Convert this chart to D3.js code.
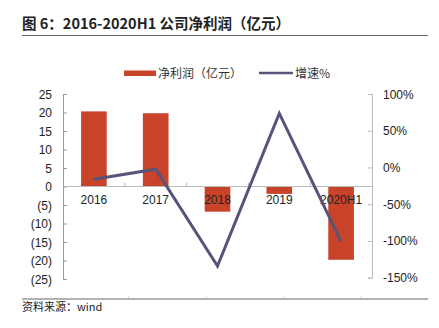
<!DOCTYPE html>
<html><head><meta charset="utf-8">
<script src="https://cdn.jsdelivr.net/npm/d3@7/dist/d3.min.js"></script>
<style>
body{margin:0;background:#fff;}
svg{display:block;}
</style></head>
<body>
<svg id="chart" width="439" height="328"></svg>
<script>
const categories = ["2016","2017","2018","2019","2020H1"];
const profit = [20.3, 19.8, -6.8, -2.0, -19.8];
const growth = [-16, -2.3, -134, 73.6, -101];
const leftTicks = [25,20,15,10,5,0,-5,-10,-15,-20,-25];
const rightTicks = [100,50,0,-50,-100,-150];
const title = "图 6：2016-2020H1 公司净利润（亿元）";
const legendBar = "净利润（亿元）";
const legendLine = "增速%";
const source = "资料来源：wind";

const svg = d3.select("#chart");
const numFont = "'Liberation Sans', Arial, sans-serif";
const cjkFont = "'Noto Sans CJK SC', sans-serif";
const barColor = "#C8432A";
const lineColor = "#585378";

// Title
svg.append("text").attr("x",22).attr("y",29).attr("font-family",cjkFont)
  .attr("font-weight","bold").attr("font-size",14.5).attr("fill","#222").text(title);
svg.append("line").attr("x1",22).attr("x2",428).attr("y1",35.5).attr("y2",35.5)
  .attr("stroke","#666").attr("stroke-width",1.2);

// Legend
svg.append("rect").attr("x",124).attr("y",70.5).attr("width",32).attr("height",5.5).attr("fill",barColor);
svg.append("text").attr("x",158).attr("y",77.5).attr("font-family",cjkFont).attr("font-size",12)
  .attr("fill","#333").text(legendBar);
svg.append("line").attr("x1",259).attr("x2",293).attr("y1",73).attr("y2",73)
  .attr("stroke",lineColor).attr("stroke-width",2.5);
svg.append("text").attr("x",295).attr("y",77.5).attr("font-family",cjkFont).attr("font-size",12)
  .attr("fill","#333").text(legendLine);

// Scales
const x = d3.scaleBand().domain(categories).range([63,372]).padding(0);
const yL = d3.scaleLinear().domain([-25,25]).range([279,94]);
const yR = d3.scaleLinear().domain([-150,100]).range([277.7,94]);

// Bars
const bw = x.bandwidth()*0.415;
svg.append("g").selectAll("rect").data(categories).join("rect")
  .attr("x", d => x(d) + x.bandwidth()/2 - bw/2)
  .attr("width", bw)
  .attr("y", (d,i) => Math.min(yL(profit[i]), yL(0)))
  .attr("height", (d,i) => Math.abs(yL(profit[i]) - yL(0)))
  .attr("fill", barColor);

// Left axis
const fmtL = v => v < 0 ? "(" + Math.abs(v) + ")" : String(v);
const gL = svg.append("g").attr("transform","translate(63,0)")
  .call(d3.axisRight(yL).tickValues(leftTicks).tickSize(4).tickFormat(""));
gL.select(".domain").attr("stroke","#999");
gL.selectAll(".tick line").attr("stroke","#999");
svg.append("g").selectAll("text").data(leftTicks).join("text")
  .attr("x",52).attr("y",d=>yL(d)+4.5).attr("text-anchor","end")
  .attr("font-family",numFont).attr("font-size",12).attr("fill","#222").text(fmtL);

// Right axis
const gR = svg.append("g").attr("transform","translate(372,0)")
  .call(d3.axisLeft(yR).tickValues(rightTicks).tickSize(4).tickFormat(""));
gR.select(".domain").attr("stroke","#bbb");
gR.selectAll(".tick line").attr("stroke","#bbb");
svg.append("g").selectAll("text").data(rightTicks).join("text")
  .attr("x",383).attr("y",d=>yR(d)+4.5).attr("text-anchor","start")
  .attr("font-family",numFont).attr("font-size",12).attr("fill","#222").text(d=>d+"%");

// Zero line with category ticks
svg.append("line").attr("x1",63).attr("x2",372).attr("y1",yL(0)).attr("y2",yL(0))
  .attr("stroke","#bbb").attr("stroke-width",1.2);
svg.append("g").selectAll("line").data(categories.slice(1)).join("line")
  .attr("x1",d=>x(d)).attr("x2",d=>x(d)).attr("y1",yL(0)).attr("y2",yL(0)-4)
  .attr("stroke","#bbb");

// Category labels
svg.append("g").selectAll("text").data(categories).join("text")
  .attr("x",d=>x(d)+x.bandwidth()/2).attr("y",yL(0)+17).attr("text-anchor","middle")
  .attr("font-family",numFont).attr("font-size",12).attr("fill","#222").text(d=>d);

// Line
const line = d3.line().x((d,i)=>x(categories[i])+x.bandwidth()/2).y(d=>yR(d));
svg.append("path").datum(growth).attr("d",line).attr("fill","none")
  .attr("stroke",lineColor).attr("stroke-width",3).attr("stroke-linejoin","miter");

// Footer
svg.append("line").attr("x1",22).attr("x2",428).attr("y1",299).attr("y2",299)
  .attr("stroke","#666").attr("stroke-width",1.2);
const xf = d3.scalePoint().domain(categories).range([51,361]);
svg.append("g").selectAll("line").data(categories).join("line")
  .attr("x1",d=>xf(d)).attr("x2",d=>xf(d)).attr("y1",298).attr("y2",295.5)
  .attr("stroke","#ddd");
svg.append("text").attr("x",22).attr("y",311).attr("font-family",cjkFont).attr("font-size",11)
  .attr("fill","#222").text(source);
</script>
</body></html>
